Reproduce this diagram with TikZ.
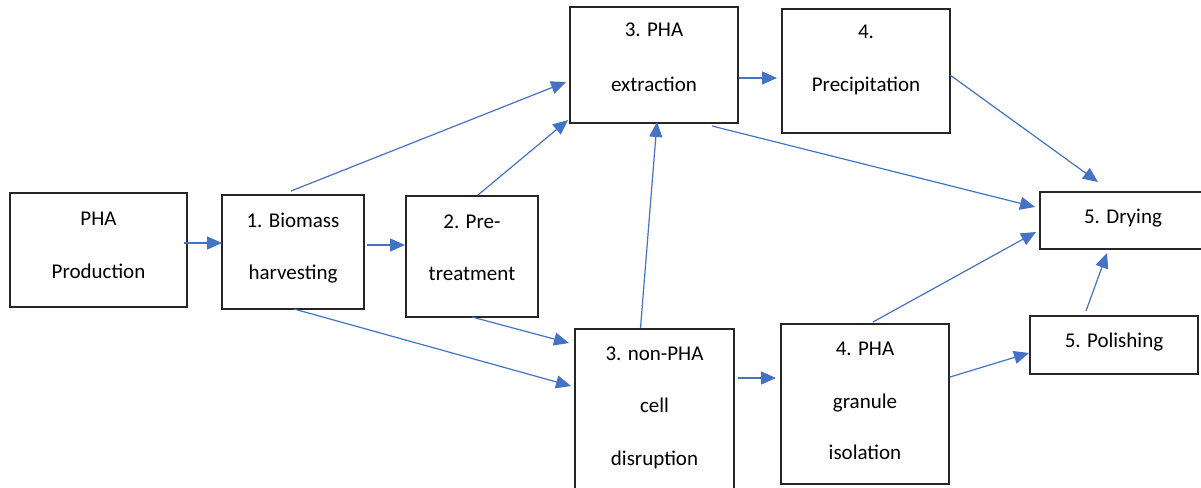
\documentclass[tikz,border=0pt]{standalone}
\usepackage{fontspec}
\setmainfont{Carlito}
\usetikzlibrary{arrows.meta}
\definecolor{arrowblue}{HTML}{4472C4}
\definecolor{boxline}{HTML}{262626}
\begin{document}
\begin{tikzpicture}[x=1pt,y=-1pt,
  box/.style={draw=boxline,line width=1.3pt,rectangle,inner sep=0pt,outer sep=0pt,fill=white},
  txt/.style={anchor=base,inner sep=0pt,font=\fontsize{21}{25}\selectfont,text=black},
  flow/.style={draw=arrowblue,line width=1.2pt,-{Triangle[length=15pt,width=13pt]}}]
\clip (0,0) rectangle (1201,487);
\fill[white] (0,0) rectangle (1201,487);
% boxes
\node[box,minimum width=177pt,minimum height=114pt] (prod) at (98.5,250) {};
\node[box,minimum width=142pt,minimum height=114pt] (bio) at (293,252) {};
\node[box,minimum width=132pt,minimum height=121pt] (pre) at (472,256.5) {};
\node[box,minimum width=168pt,minimum height=116pt] (ext) at (654,65) {};
\node[box,minimum width=168pt,minimum height=124pt] (prec) at (866,71) {};
\node[box,minimum width=166pt,minimum height=57pt] (dry) at (1123,220.5) {};
\node[box,minimum width=168pt,minimum height=58pt] (pol) at (1114,345) {};
\node[box,minimum width=159pt,minimum height=201pt] (cell) at (654.5,429.5) {};
\node[box,minimum width=168pt,minimum height=160pt] (gran) at (865,404) {};
% texts
\node[txt] (prodA) at (98.5,225) {PHA};
\node[txt] (prodB) at (98.5,278) {Production};
\node[txt] (bioA) at (293,227) {1. Biomass};
\node[txt] (bioB) at (293,279) {harvesting};
\node[txt] (preA) at (472,228) {2. Pre-};
\node[txt] (preB) at (472,280) {treatment};
\node[txt] (extA) at (654,37) {3. PHA};
\node[txt] (extB) at (654,91) {extraction};
\node[txt] (precA) at (866,39) {4.};
\node[txt] (precB) at (866,92) {Precipitation};
\node[txt] (dryA) at (1123,223) {5. Drying};
\node[txt] (polA) at (1114,347) {5. Polishing};
\node[txt] (cellA) at (654.5,360) {3. non-PHA};
\node[txt] (cellB) at (654.5,412) {cell};
\node[txt] (cellC) at (654.5,465) {disruption};
\node[txt] (granA) at (865,355) {4. PHA};
\node[txt] (granB) at (865,408) {granule};
\node[txt] (granC) at (865,459) {isolation};
% connectors
\draw[flow] ([shift={(-3,50)}]prod.north east) -- ([shift={(0,48)}]bio.north west);
\draw[flow] ([shift={(3,50)}]bio.north east) -- ([shift={(-1,49)}]pre.north west);
\draw[flow] ([shift={(69,-4)}]bio.north west) -- ([shift={(-4,75)}]ext.north west);
\draw[flow] ([shift={(72,-1)}]pre.north west) -- ([shift={(-2,-3)}]ext.south west);
\draw[flow] ([shift={(72,0)}]bio.south west) -- ([shift={(-4,57)}]cell.north west);
\draw[flow] ([shift={(66,0)}]pre.south west) -- ([shift={(-6,14)}]cell.north west);
\draw[flow] ([shift={(65.5,-1)}]cell.north west) -- ([shift={(87,-1)}]ext.south west);
\draw[flow] ([shift={(1,71)}]ext.north east) -- ([shift={(-5,69)}]prec.north west);
\draw[flow] ([shift={(-26,3)}]ext.south east) -- ([shift={(-5,15)}]dry.north west);
\draw[flow] ([shift={(0,66)}]prec.north east) -- ([shift={(58,-10)}]dry.north west);
\draw[flow] ([shift={(4,49)}]cell.north east) -- ([shift={(-5,54)}]gran.north west);
\draw[flow] ([shift={(92,-2)}]gran.north west) -- ([shift={(-4,40)}]dry.north west);
\draw[flow] ([shift={(1,53)}]gran.north east) -- ([shift={(-1,37)}]pol.north west);
\draw[flow] ([shift={(56,-5)}]pol.north west) -- ([shift={(67,4)}]dry.south west);
\end{tikzpicture}
\end{document}
